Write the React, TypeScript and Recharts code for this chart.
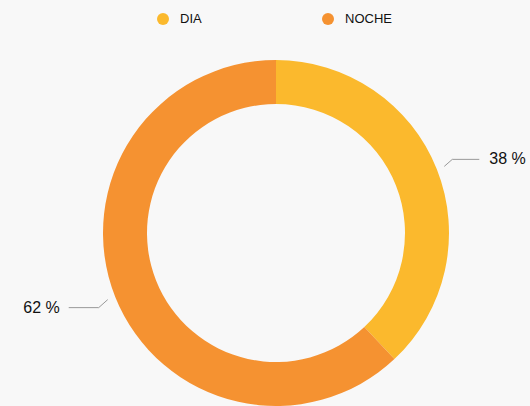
import React from "react";
import { PieChart, Pie, Cell, Legend } from "recharts";

const categories = ["DIA", "NOCHE"];
const values = [38, 62];
const colors = ["#FBB92D", "#F59231"];

const data = categories.map((name, i) => ({ name, value: values[i] }));

const RAD = Math.PI / 180;

function renderLabel(props: any) {
  const { cx, cy, midAngle, outerRadius, value } = props;
  const cos = Math.cos(-midAngle * RAD);
  const sin = Math.sin(-midAngle * RAD);
  const sx = cx + (outerRadius + 8) * cos;
  const sy = cy + (outerRadius + 8) * sin;
  const right = cos >= 0;
  const mx = sx + (right ? 8 : -9);
  const my = sy + (sin < 0 ? -7 : 8);
  const ex = mx + (right ? 27 : -30);
  const tx = ex + (right ? 10 : -9);
  return (
    <g>
      <path d={`M${sx},${sy}L${mx},${my}L${ex},${my}`} stroke="#999" strokeWidth={1} fill="none" />
      <text
        x={tx}
        y={my}
        dy={5}
        textAnchor={right ? "start" : "end"}
        fill="#111"
        fontSize={16}
        fontFamily="Liberation Sans, Arial, sans-serif"
      >
        {`${value} %`}
      </text>
    </g>
  );
}

function LegendContent() {
  const xs = [157, 322];
  return (
    <div style={{ position: "relative", width: 530, height: 36 }}>
      {data.map((d, i) => (
        <div
          key={d.name}
          style={{
            position: "absolute",
            left: xs[i],
            top: 11,
            display: "flex",
            alignItems: "center",
            fontFamily: "Liberation Sans, Arial, sans-serif",
            fontSize: 13,
            color: "#111",
          }}
        >
          <span
            style={{
              display: "inline-block",
              width: 12,
              height: 12,
              borderRadius: 6,
              background: colors[i],
              marginRight: 11,
            }}
          />
          {d.name}
        </div>
      ))}
    </div>
  );
}

export default function App() {
  return (
    <div style={{ position: "fixed", left: 0, top: 0, width: 530, height: 406, background: "#F8F8F8", overflow: "hidden" }}>
      <PieChart width={530} height={406} margin={{ top: 0, right: 0, bottom: 0, left: 0 }}>
        <Legend verticalAlign="top" align="left" content={<LegendContent />} wrapperStyle={{ top: 0, left: 0 }} />
        <Pie
          data={data}
          dataKey="value"
          nameKey="name"
          cx={276}
          cy={197}
          innerRadius={129}
          outerRadius={173}
          startAngle={90}
          endAngle={-270}
          stroke="none"
          label={renderLabel}
          labelLine={false}
          isAnimationActive={false}
        >
          {data.map((d, i) => (
            <Cell key={d.name} fill={colors[i]} />
          ))}
        </Pie>
      </PieChart>
    </div>
  );
}
